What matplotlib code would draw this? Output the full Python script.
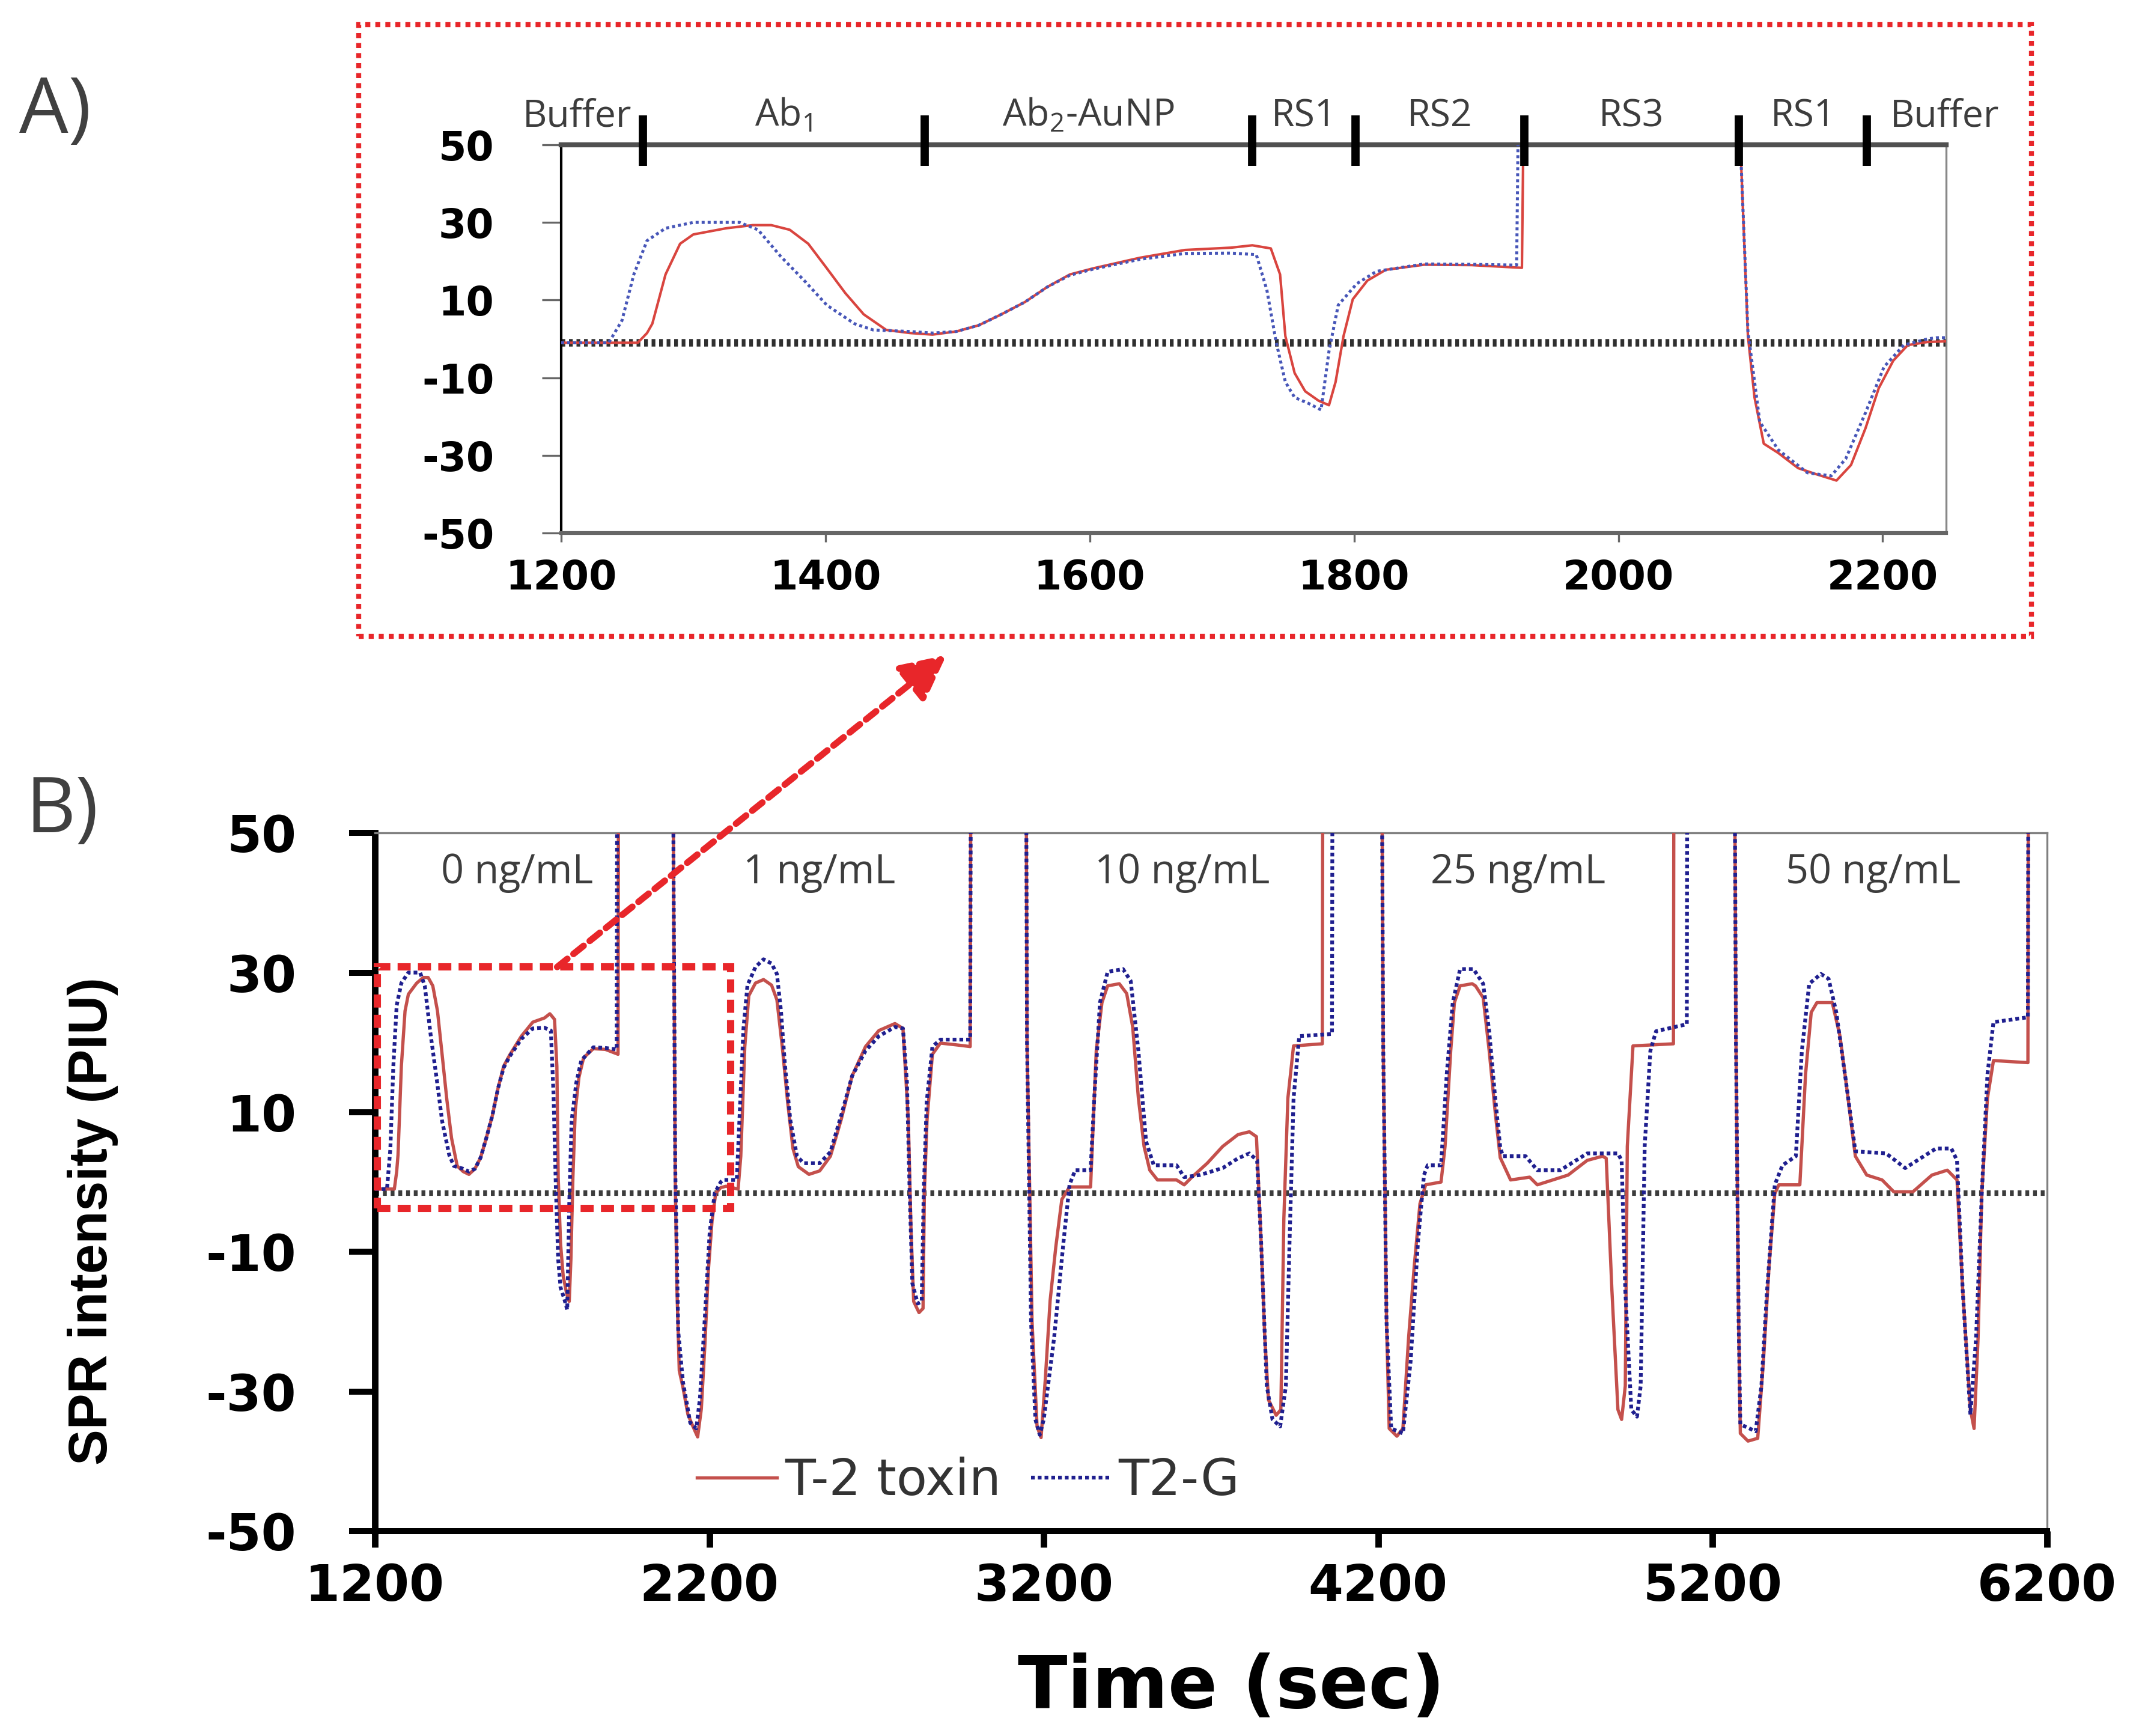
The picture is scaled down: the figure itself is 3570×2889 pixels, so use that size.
import matplotlib
matplotlib.use('Agg')
import matplotlib.pyplot as plt
from matplotlib.patches import Rectangle
from matplotlib import font_manager

plt.rcParams['axes.unicode_minus'] = False
plt.rcParams['font.family'] = 'DejaVu Sans'

# ---- data (time in s, SPR intensity in PIU) ----
# values of 80 stand for the off-scale part of the RS3 step
t2_time = [
    1200, 1258, 1265, 1269, 1279, 1290, 1300, 1325, 1345, 1359, 1373, 1387, 1401, 1415,
    1429, 1446, 1464, 1481, 1499, 1516, 1533, 1551, 1568, 1585, 1603, 1638, 1672, 1707,
    1723, 1737, 1744, 1748, 1755, 1763, 1773, 1781, 1786, 1792, 1799, 1810, 1824, 1853,
    1889, 1927, 1929, 2090, 2093, 2098, 2103, 2110, 2121, 2136, 2150, 2165, 2176, 2187,
    2197, 2208, 2219, 2234, 2250,
    2286, 2294, 2306, 2318, 2338, 2362, 2386, 2402, 2418, 2434, 2450, 2466, 2498, 2530,
    2562, 2594, 2627, 2667, 2707, 2755, 2779, 2795, 2803, 2811, 2827, 2839, 2843, 2851,
    2867, 2891, 2947, 2980, 2983, 3146, 3150, 3165, 3180, 3192, 3205, 3219, 3236, 3254,
    3277, 3340,
    3345, 3357, 3374, 3391, 3426, 3448, 3466, 3483, 3500, 3517, 3540, 3597, 3620, 3643,
    3689, 3735, 3781, 3815, 3836, 3850, 3861, 3872, 3895, 3909, 3918, 3930, 3947, 4033,
    4035, 4209, 4215, 4225, 4233, 4256, 4274, 4291, 4308, 4325, 4342, 4388,
    4400, 4417, 4428, 4445, 4481, 4491, 4514, 4532, 4550, 4565, 4596, 4653, 4676, 4768,
    4825, 4871, 4882, 4899, 4917, 4928, 4939, 4945, 4962, 5083, 5085, 5264, 5270, 5278,
    5283, 5306, 5335, 5352, 5369, 5386, 5398, 5461,
    5478, 5495, 5512, 5558, 5581, 5598, 5627, 5661, 5707, 5742, 5799, 5856, 5902, 5931,
    5948, 5971, 5982, 5994, 6005, 6022, 6040, 6143, 6145, 6200,
]
t2_signal = [
    -1.0, -1.0, 1.5, 3.9, 16.6, 24.5, 26.9, 28.5, 29.3, 29.3, 28.1, 24.5, 18.2, 11.8,
    6.3, 2.3, 1.5, 1.1, 1.9, 3.5, 6.3, 9.5, 13.4, 16.6, 18.2, 20.9, 22.9, 23.5,
    24.1, 23.3, 16.6, 0.7, -8.8, -13.5, -15.9, -17.1, -11.1, 0.7, 10.2, 15.0, 17.8, 19.1,
    19.0, 18.3, 80, 80, 44, 0.7, -15.1, -27.0, -29.4, -33.3, -34.9, -36.5, -32.5, -23.0,
    -12.7, -5.6, -1.6, -0.8, -0.6,
    -1.0, 3.7, 19.4, 26.7, 28.5, 29.0, 28.2, 26.1, 19.4, 11.5, 4.8, 2.2, 1.1, 1.6,
    3.7, 8.9, 15.2, 19.4, 21.7, 22.7, 22.0, 8.9, -6.7, -17.1, -18.7, -18.1, -1.5, 8.9,
    18.3, 19.9, 19.6, 19.4, 80, 80, 20, -20, -35.0, -36.6, -28.0, -17.0, -9.3, -2.5,
    -0.7, -0.7,
    5.1, 18.8, 25.7, 28.1, 28.4, 27.0, 22.2, 12.0, 5.1, 1.7, 0.3, 0.3, -0.4, 0.7,
    2.7, 5.1, 6.8, 7.2, 6.5, -8.6, -22.3, -31.2, -33.4, -32.6, -5.2, 12.0, 19.5, 19.8,
    80, 80, 20, -20, -35.3, -36.4, -35.3, -22.3, -12.0, -3.1, -0.4, 0.0,
    5.1, 18.8, 25.7, 28.1, 28.4, 28.1, 26.4, 18.8, 10.0, 3.5, 0.3, 0.7, -0.4, 1.0,
    3.1, 3.7, 3.4, -15.5, -32.6, -34.0, -29.2, 5.1, 19.5, 19.8, 80, 80, 20, -20,
    -36.0, -37.1, -36.7, -25.7, -12.0, -1.7, -0.4, -0.4,
    15.4, 24.3, 25.7, 25.7, 20.9, 14.7, 3.7, 1.0, 0.3, -1.4, -1.4, 1.0, 1.7, 0.3,
    -15.5, -32.6, -35.3, -22.3, -1.7, 12.0, 17.4, 17.1, 80, 80,
]

t2g_time = [
    1200, 1236, 1246, 1255, 1265, 1279, 1300, 1335, 1349, 1366, 1384, 1401, 1422, 1436,
    1464, 1481, 1499, 1516, 1533, 1551, 1568, 1585, 1603, 1638, 1672, 1707, 1726, 1734,
    1741, 1748, 1755, 1766, 1775, 1781, 1788, 1802, 1817, 1853, 1889, 1923, 1925, 2090,
    2093, 2098, 2107, 2121, 2143, 2161, 2172, 2187, 2201, 2216, 2234,
    2241, 2282, 2290, 2302, 2314, 2338, 2362, 2386, 2402, 2414, 2426, 2442, 2462, 2482,
    2530, 2562, 2594, 2627, 2667, 2707, 2755, 2779, 2791, 2799, 2807, 2823, 2835, 2841,
    2850, 2867, 2891, 2980, 2983, 3146, 3150, 3162, 3175, 3188, 3200, 3231, 3259, 3277,
    3294, 3340,
    3351, 3368, 3391, 3437, 3460, 3483, 3506, 3529, 3597, 3620, 3666, 3735, 3781, 3815,
    3838, 3850, 3867, 3884, 3907, 3924, 3935, 3947, 3964, 4062, 4064, 4209, 4215, 4225,
    4239, 4274, 4297, 4319, 4337, 4348, 4388,
    4405, 4423, 4445, 4485, 4514, 4532, 4550, 4565, 4573, 4641, 4676, 4745, 4825, 4917,
    4928, 4939, 4957, 4974, 4985, 4997, 5014, 5031, 5123, 5125, 5264, 5270, 5278, 5283,
    5329, 5346, 5363, 5386, 5409, 5449,
    5467, 5489, 5524, 5547, 5570, 5598, 5627, 5719, 5776, 5868, 5914, 5931, 5948, 5971,
    5988, 6005, 6022, 6040, 6143, 6145, 6200,
]
t2g_signal = [
    -1.0, -1.0, 4.7, 16.6, 25.3, 28.5, 30.0, 30.0, 28.1, 21.3, 15.0, 8.7, 3.9, 2.3,
    1.9, 1.5, 1.9, 3.5, 6.3, 9.5, 13.4, 16.4, 18.0, 20.5, 22.0, 22.1, 21.7, 12.6,
    -0.8, -11.1, -15.1, -16.7, -18.3, -3.2, 8.7, 14.2, 17.4, 19.3, 19.2, 19.0, 80, 80,
    44, 2.0, -21.4, -28.6, -34.5, -35.3, -30.9, -19.0, -7.2, -1.6, 0.0,
    0.3, 0.3, 8.9, 22.0, 28.2, 30.8, 31.9, 31.3, 29.8, 24.6, 16.8, 8.9, 3.7, 2.7,
    2.7, 4.3, 9.5, 15.2, 18.8, 20.9, 22.2, 22.0, 14.2, -1.5, -14.5, -17.4, -17.1, -1.5,
    11.5, 19.4, 20.4, 20.4, 80, 80, 20, -20, -34.0, -36.2, -34.0, -22.3, -8.6, -0.4,
    1.7, 1.7,
    12.0, 25.7, 30.1, 30.5, 28.8, 18.8, 5.8, 2.4, 2.4, 0.7, 1.0, 2.0, 3.4, 4.1,
    3.1, -8.6, -29.2, -34.0, -35.0, -29.2, -8.6, 12.0, 20.9, 21.2, 80, 80, 20, -20,
    -35.3, -36.0, -25.7, -8.6, 1.0, 2.4, 2.4,
    15.4, 25.7, 30.5, 30.5, 28.4, 21.6, 12.0, 5.0, 3.7, 3.7, 1.7, 1.7, 4.1, 4.1,
    3.1, -15.5, -32.6, -33.6, -29.2, 5.1, 18.8, 21.6, 22.6, 80, 80, 20, -20, -34.7,
    -35.7, -29.2, -15.5, -0.4, 2.4, 3.7,
    18.8, 28.4, 29.8, 29.1, 24.3, 14.7, 4.4, 4.1, 2.0, 4.8, 4.8, 3.1, -15.5, -33.3,
    -22.3, -1.7, 15.4, 22.9, 23.6, 80, 80,
]

conc_labels = ['0 ng/mL', '1 ng/mL', '10 ng/mL', '25 ng/mL', '50 ng/mL']
conc_centers = [1625, 2528, 3614, 4619, 5681]

step_names = ['Buffer', 'Ab$_\\mathregular{1}$', 'Ab$_\\mathregular{2}$-AuNP', 'RS1',
              'RS2', 'RS3', 'RS1', 'Buffer']
step_centers = [1212, 1368, 1599, 1762, 1865, 2010, 2140, 2247]
step_bounds = [1262, 1475, 1723, 1801, 1929, 2091, 2188]

baseline_A = -1.0
baseline_B = -1.5
yticks = [-50, -30, -10, 10, 30, 50]
xticks_A = [1200, 1400, 1600, 1800, 2000, 2200]
xticks_B = [1200, 2200, 3200, 4200, 5200, 6200]

RED_A, BLUE_A = '#d9453f', '#4756b8'
RED_B, BLUE_B = '#c4504c', '#1f1f8f'
BOX_RED = '#e8262a'
GREY_TXT = '#3d3d3d'


def bold_ticks(ax):
    for lab in ax.get_xticklabels() + ax.get_yticklabels():
        lab.set_fontweight('bold')


fig = plt.figure(figsize=(11.9, 9.63), dpi=300)

# ---------------- panel A : zoom on the first cycle ----------------
axA = fig.add_axes([0.2616, 0.693, 0.6457, 0.2236])
axA.plot(t2_time, t2_signal, color=RED_A, lw=1.0, zorder=3)
axA.plot(t2g_time, t2g_signal, color=BLUE_A, lw=1.2, ls=(0, (1, 1)), zorder=4)
axA.axhline(baseline_A, color='#2f2f2f', lw=3, ls=(0, (0.5, 0.5)), zorder=2)
axA.set_xlim(1200, 2248)
axA.set_ylim(-50, 50)
axA.set_xticks(xticks_A)
axA.set_yticks(yticks)
axA.spines['top'].set_linewidth(2.0)
axA.spines['top'].set_color('#505050')
axA.spines['bottom'].set_linewidth(1.5)
axA.spines['bottom'].set_color('#666666')
axA.spines['left'].set_linewidth(1.0)
axA.spines['left'].set_color('black')
axA.spines['right'].set_linewidth(0.8)
axA.spines['right'].set_color('#888888')
axA.tick_params(axis='y', direction='out', length=7.7, width=0.8, color='#666666',
                pad=19, labelsize=16)
axA.tick_params(axis='x', direction='out', length=3.6, width=0.8, color='#666666',
                pad=6.5, labelsize=16)
bold_ticks(axA)

axA.vlines(step_bounds, 44.5, 57.5, colors='black', lw=3.3, clip_on=False, zorder=6)
for name, c in zip(step_names, step_centers):
    axA.text(c, 57.3, name, ha='center', va='center', fontsize=15,
             family='Open Sans', color=GREY_TXT, clip_on=False)

fig.add_artist(Rectangle((0.1672, 0.6334), 0.947 - 0.1672, 0.9858 - 0.6334,
                         transform=fig.transFigure, fill=False, ec=BOX_RED,
                         lw=2.0, ls=(0, (1, 1))))

# ---------------- panel B : full sensorgram ----------------
axB = fig.add_axes([0.1748, 0.118, 0.7795, 0.4022])
axB.plot(t2_time, t2_signal, color=RED_B, lw=1.3, label='T-2 toxin', zorder=3)
axB.plot(t2g_time, t2g_signal, color=BLUE_B, lw=1.5, ls=(0, (1, 0.8)),
         label='T2-G', zorder=4)
axB.axhline(baseline_B, color='#3c3c3c', lw=2.2, ls=(0, (0.7, 0.7)), zorder=2)
axB.set_xlim(1200, 6200)
axB.set_ylim(-50, 50)
axB.set_xticks(xticks_B)
axB.set_yticks(yticks)
axB.spines['left'].set_linewidth(2.6)
axB.spines['bottom'].set_linewidth(2.4)
for side in ('top', 'right'):
    axB.spines[side].set_linewidth(0.8)
    axB.spines[side].set_color('#808080')
axB.tick_params(axis='y', direction='out', length=10.3, width=2.4, pad=21, labelsize=20)
axB.tick_params(axis='x', direction='out', length=6.5, width=2.6, pad=6, labelsize=20)
bold_ticks(axB)

for lab, c in zip(conc_labels, conc_centers):
    axB.text(c, 44.3, lab, ha='center', va='center', fontsize=16,
             family='Open Sans', color=GREY_TXT)

leg = axB.legend(loc='center left', bbox_to_anchor=(0.1926, 0.072), frameon=False,
                 borderpad=0, borderaxespad=0, handlelength=1.6, handletextpad=0.15,
                 columnspacing=0.6, ncol=2, prop={'family': 'DejaVu Sans', 'size': 20})
for txt in leg.get_texts():
    txt.set_color('#333333')

# dashed box marking the zoomed region, and the arrow up to panel A
axB.add_patch(Rectangle((1208, -3.8), 2263 - 1208, 30.8 + 3.8, fill=False,
                        ec=BOX_RED, lw=2.9, ls=(0, (1.8, 1)), clip_on=False, zorder=6))
axB.annotate('', xy=(0.4412, 0.6227), xycoords='figure fraction',
             xytext=(1745, 30.8), textcoords='data',
             arrowprops=dict(arrowstyle='-|>', lw=2.6, ls=(0, (2, 1.2)), color=BOX_RED,
                             mutation_scale=38, shrinkA=0, shrinkB=0), zorder=7)

# ---------------- labels ----------------
names = {f.name for f in font_manager.fontManager.ttflist}
if 'Liberation Sans Narrow' in names:
    ylab_family, ylab_size = 'Liberation Sans Narrow', 25
else:
    ylab_family, ylab_size = 'Liberation Sans', 21.5
fig.text(0.0434, 0.2966, 'SPR intensity (PIU)', rotation=90, ha='center', va='center',
         fontsize=ylab_size, fontweight='bold', family=ylab_family)
fig.text(0.574, 0.028, 'Time (sec)', ha='center', va='center', fontsize=29,
         fontweight='bold')

fig.text(0.009, 0.935, 'A)', ha='left', va='center', fontsize=31, family='Open Sans',
         color='#404040')
fig.text(0.012, 0.532, 'B)', ha='left', va='center', fontsize=31, family='Open Sans',
         color='#404040')

fig.savefig('out.png', dpi=300)
